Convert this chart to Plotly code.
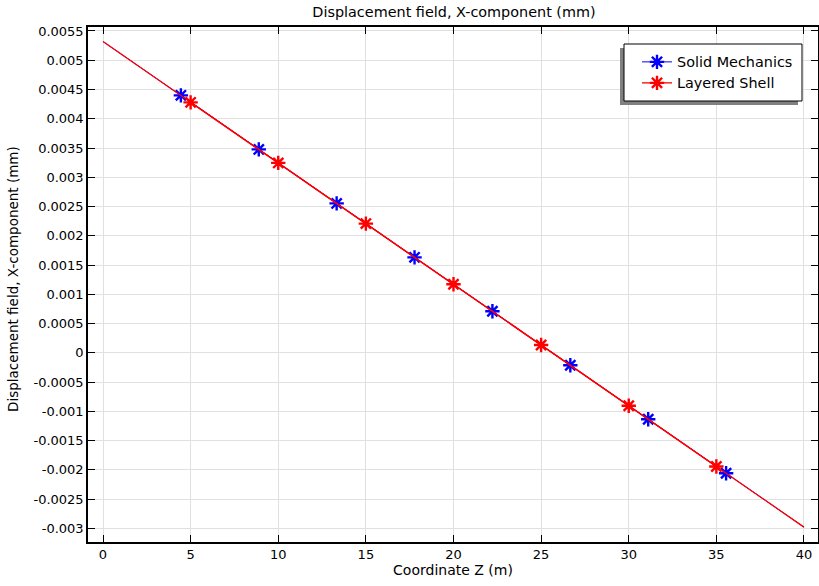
import plotly.graph_objects as go

# Data
z_line = [0, 40]
u_solid_line = [0.00532, -0.00298]
u_shell_line = [0.00532, -0.00298]

z_solid = [4.444, 8.889, 13.333, 17.778, 22.222, 26.667, 31.111, 35.556]
u_solid = [0.00440, 0.003476, 0.002553, 0.001631, 0.000709, -0.000213, -0.001136, -0.002058]

z_shell = [5, 10, 15, 20, 25, 30, 35]
u_shell = [0.00428, 0.003245, 0.002208, 0.001170, 0.000133, -0.000905, -0.001943]

x_ticks = [0, 5, 10, 15, 20, 25, 30, 35, 40]
y_ticks = [0.0055, 0.005, 0.0045, 0.004, 0.0035, 0.003, 0.0025, 0.002, 0.0015, 0.001, 0.0005, 0,
           -0.0005, -0.001, -0.0015, -0.002, -0.0025, -0.003]
y_tick_text = ["0.0055", "0.005", "0.0045", "0.004", "0.0035", "0.003", "0.0025", "0.002", "0.0015",
               "0.001", "0.0005", "0", "-0.0005", "-0.001", "-0.0015", "-0.002", "-0.0025", "-0.003"]

BLUE = "#0000ff"
RED = "#ff0000"
FONT = "DejaVu Sans"

fig = go.Figure()
fig.add_trace(go.Scatter(x=z_line, y=u_solid_line, mode="lines", line=dict(color=BLUE, width=1),
                         showlegend=False, hoverinfo="skip"))
fig.add_trace(go.Scatter(x=z_solid, y=u_solid, mode="lines+markers", name="Solid Mechanics",
                         legend="legend",
                         line=dict(color=BLUE, width=1),
                         marker=dict(symbol="asterisk-open", size=12, color=BLUE,
                                     line=dict(color=BLUE, width=2.4))))
fig.add_trace(go.Scatter(x=z_line, y=u_shell_line, mode="lines", line=dict(color=RED, width=1.3),
                         showlegend=False, hoverinfo="skip"))
fig.add_trace(go.Scatter(x=z_shell, y=u_shell, mode="lines+markers", name="Layered Shell",
                         legend="legend2",
                         line=dict(color=RED, width=1.3),
                         marker=dict(symbol="asterisk-open", size=12, color=RED,
                                     line=dict(color=RED, width=2.4))))

W, H = 819, 586
L, R, T, B = 88, 1, 27, 44
pw, ph = W - L - R, H - T - B

def px_x(p):
    return (p - L) / pw

def px_y(p):
    return (H - B - p) / ph

# legend frame with shadow (drawn as shapes, legends themselves transparent)
fig.add_shape(type="rect", xref="paper", yref="paper",
              x0=px_x(620), x1=px_x(798), y0=px_y(105), y1=px_y(48),
              fillcolor="#808080", line=dict(width=0), layer="above")
fig.add_shape(type="rect", xref="paper", yref="paper",
              x0=px_x(624), x1=px_x(802), y0=px_y(101), y1=px_y(44),
              fillcolor="white", line=dict(color="black", width=1), layer="above")

# y-axis title as a rotated annotation
fig.add_annotation(text="Displacement field, X-component (mm)", xref="paper", yref="paper",
                   x=px_x(13), y=px_y(279), xanchor="center", yanchor="middle",
                   textangle=-90, showarrow=False, font=dict(size=13.5))

leg_common = dict(xanchor="left", yanchor="middle", bgcolor="rgba(0,0,0,0)", borderwidth=0,
                  font=dict(size=14.4))

fig.update_layout(
    width=W, height=H,
    margin=dict(l=L, r=R, t=T, b=B),
    paper_bgcolor="white", plot_bgcolor="white",
    font=dict(family=FONT, size=13, color="black"),
    title=dict(text="Displacement field, X-component (mm)", x=px_x(454), xref="paper",
               xanchor="center", y=1 - 12 / H, yanchor="middle", font=dict(size=14.4)),
    legend=dict(x=px_x(637), y=px_y(62), **leg_common),
    legend2=dict(x=px_x(637), y=px_y(83), **leg_common),
    xaxis=dict(range=[-0.856, 40.8], tickvals=x_ticks, ticks="inside", ticklen=7,
               tickcolor="black", showline=True, linecolor="black", linewidth=1.5,
               mirror="ticks", showgrid=True, gridcolor="#e0e0e0", gridwidth=1,
               zeroline=False, automargin=False,
               title=dict(text="Coordinate Z (m)", standoff=4, font=dict(size=14)),
               tickfont=dict(size=13)),
    yaxis=dict(range=[-0.003234, 0.005568], tickvals=y_ticks, ticktext=y_tick_text,
               ticks="inside", ticklen=7, tickcolor="black", showline=True,
               linecolor="black", linewidth=1.5, mirror="ticks", showgrid=True,
               gridcolor="#e0e0e0", gridwidth=1, zeroline=False, automargin=False,
               tickfont=dict(size=13)),
)

fig.write_html("out.html", config={"displayModeBar": False},
               post_script="document.body.style.margin='0';")
